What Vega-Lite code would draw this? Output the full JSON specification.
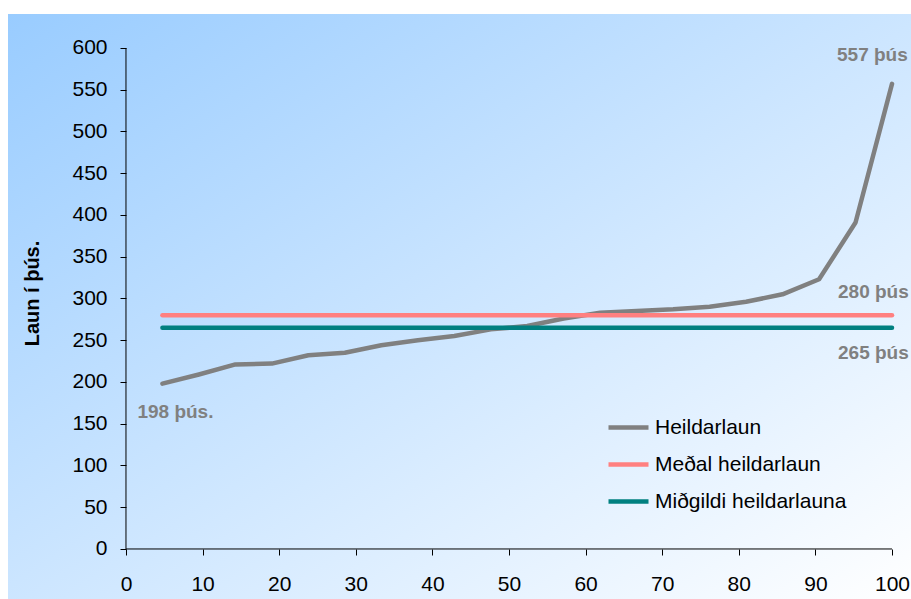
{
  "$schema": "https://vega.github.io/schema/vega-lite/v6.json",
  "width": 903,
  "height": 585,
  "autosize": {"type": "none"},
  "padding": {"left": 8, "top": 14, "right": 0, "bottom": 0},
  "background": "#ffffff",
  "view": {
    "stroke": null,
    "fill": {
      "gradient": "linear",
      "x1": 0, "y1": 0, "x2": 1, "y2": 1,
      "stops": [
        {"offset": 0, "color": "#99ccff"},
        {"offset": 1, "color": "#ffffff"}
      ]
    }
  },
  "config": {"font": "Liberation Sans"},
  "layer": [
    {
      "data": {"values": [
        {"series": "Heildarlaun", "x": 4.76, "y": 198},
        {"series": "Heildarlaun", "x": 9.52, "y": 209},
        {"series": "Heildarlaun", "x": 14.29, "y": 221},
        {"series": "Heildarlaun", "x": 19.05, "y": 222},
        {"series": "Heildarlaun", "x": 23.81, "y": 232},
        {"series": "Heildarlaun", "x": 28.57, "y": 235},
        {"series": "Heildarlaun", "x": 33.33, "y": 244},
        {"series": "Heildarlaun", "x": 38.1, "y": 250},
        {"series": "Heildarlaun", "x": 42.86, "y": 255},
        {"series": "Heildarlaun", "x": 47.62, "y": 263},
        {"series": "Heildarlaun", "x": 52.38, "y": 267},
        {"series": "Heildarlaun", "x": 57.14, "y": 276},
        {"series": "Heildarlaun", "x": 61.9, "y": 283},
        {"series": "Heildarlaun", "x": 66.67, "y": 285},
        {"series": "Heildarlaun", "x": 71.43, "y": 287},
        {"series": "Heildarlaun", "x": 76.19, "y": 290},
        {"series": "Heildarlaun", "x": 80.95, "y": 296},
        {"series": "Heildarlaun", "x": 85.71, "y": 305},
        {"series": "Heildarlaun", "x": 90.48, "y": 323},
        {"series": "Heildarlaun", "x": 95.24, "y": 391},
        {"series": "Heildarlaun", "x": 100, "y": 557},
        {"series": "Meðal heildarlaun", "x": 4.76, "y": 280},
        {"series": "Meðal heildarlaun", "x": 100, "y": 280},
        {"series": "Miðgildi heildarlauna", "x": 4.76, "y": 265},
        {"series": "Miðgildi heildarlauna", "x": 100, "y": 265}
      ]},
      "mark": {"type": "line", "strokeWidth": 4.5, "strokeCap": "round", "strokeJoin": "round"},
      "encoding": {
        "x": {
          "field": "x", "type": "quantitative",
          "scale": {"domain": [-15.4, 102.48], "nice": false, "zero": false},
          "axis": {
            "title": null,
            "values": [0, 10, 20, 30, 40, 50, 60, 70, 80, 90, 100],
            "domain": false, "grid": false,
            "offset": -50,
            "tickSize": 6, "tickColor": "#000000",
            "labelFontSize": 21, "labelColor": "#000000",
            "labelPadding": 18, "labelFlush": false
          }
        },
        "y": {
          "field": "y", "type": "quantitative",
          "scale": {"domain": [-59.9, 640.7], "nice": false, "zero": false},
          "axis": {
            "title": "Laun í þús.",
            "values": [0, 50, 100, 150, 200, 250, 300, 350, 400, 450, 500, 550, 600],
            "domain": false, "grid": false,
            "offset": -118,
            "tickSize": 6, "tickColor": "#000000",
            "labelFontSize": 21, "labelColor": "#000000",
            "labelPadding": 13,
            "titleFontSize": 20, "titleFontWeight": "bold", "titleColor": "#000000",
            "titlePadding": 29, "titleY": 279
          }
        },
        "color": {
          "field": "series", "type": "nominal",
          "scale": {
            "domain": ["Heildarlaun", "Meðal heildarlaun", "Miðgildi heildarlauna"],
            "range": ["#808080", "#ff8080", "#008080"]
          },
          "legend": {
            "title": null, "orient": "none",
            "legendX": 598, "legendY": 391,
            "symbolType": "stroke", "symbolSize": 1600, "symbolStrokeWidth": 4.5,
            "labelFontSize": 21, "labelColor": "#000000", "labelOffset": 4,
            "labelLimit": 400, "rowPadding": 4, "padding": 0
          }
        }
      }
    },
    {
      "data": {"values": [{}]},
      "mark": {"type": "rule", "color": "#000000", "strokeWidth": 1},
      "encoding": {
        "x": {"datum": 0, "type": "quantitative"},
        "y": {"datum": 0, "type": "quantitative"},
        "y2": {"datum": 600}
      }
    },
    {
      "data": {"values": [{}]},
      "mark": {"type": "rule", "color": "#000000", "strokeWidth": 1},
      "encoding": {
        "y": {"datum": 0, "type": "quantitative"},
        "x": {"datum": 0, "type": "quantitative"},
        "x2": {"datum": 100}
      }
    },
    {
      "data": {"values": [{"x": 100, "y": 557, "label": "557 þús"}]},
      "mark": {"type": "text", "align": "left", "baseline": "middle", "dx": -55, "dy": -29, "fontSize": 19, "fontWeight": "bold", "color": "#808080"},
      "encoding": {
        "x": {"field": "x", "type": "quantitative"},
        "y": {"field": "y", "type": "quantitative"},
        "text": {"field": "label"}
      }
    },
    {
      "data": {"values": [{"x": 100, "y": 280, "label": "280 þús"}]},
      "mark": {"type": "text", "align": "left", "baseline": "middle", "dx": -54, "dy": -23, "fontSize": 19, "fontWeight": "bold", "color": "#808080"},
      "encoding": {
        "x": {"field": "x", "type": "quantitative"},
        "y": {"field": "y", "type": "quantitative"},
        "text": {"field": "label"}
      }
    },
    {
      "data": {"values": [{"x": 100, "y": 265, "label": "265 þús"}]},
      "mark": {"type": "text", "align": "left", "baseline": "middle", "dx": -54, "dy": 25, "fontSize": 19, "fontWeight": "bold", "color": "#808080"},
      "encoding": {
        "x": {"field": "x", "type": "quantitative"},
        "y": {"field": "y", "type": "quantitative"},
        "text": {"field": "label"}
      }
    },
    {
      "data": {"values": [{"x": 4.76, "y": 198, "label": "198 þús."}]},
      "mark": {"type": "text", "align": "center", "baseline": "middle", "dx": 13, "dy": 28, "fontSize": 19, "fontWeight": "bold", "color": "#808080"},
      "encoding": {
        "x": {"field": "x", "type": "quantitative"},
        "y": {"field": "y", "type": "quantitative"},
        "text": {"field": "label"}
      }
    }
  ]
}
